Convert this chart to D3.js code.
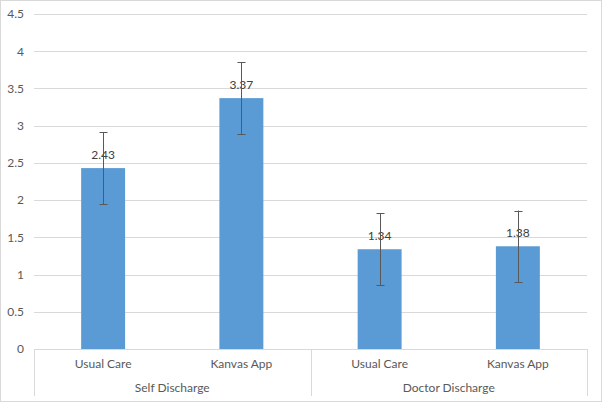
<!DOCTYPE html>
<html><head><meta charset="utf-8">
<script src="https://cdn.jsdelivr.net/npm/d3@7"></script>
<style>body{margin:0;background:#fff}svg{display:block}text{font-family:Lato,"Open Sans","Liberation Sans",sans-serif}</style>
</head><body><div id="chart"></div>
<script>
const groups = ["Self Discharge", "Doctor Discharge"];
const categories = ["Usual Care", "Kanvas App", "Usual Care", "Kanvas App"];
const categoryGroup = [0, 0, 1, 1];
const values = [2.43, 3.37, 1.34, 1.38];
const errors = [0.485, 0.485, 0.485, 0.48];
const yTicks = [0, 0.5, 1, 1.5, 2, 2.5, 3, 3.5, 4, 4.5];

const W = 616, H = 418;
const svg = d3.select("#chart").append("svg").attr("width", W).attr("height", H);
svg.append("rect").attr("x", 0.5).attr("y", 0.5).attr("width", 601).attr("height", 401)
  .attr("fill", "#fff").attr("stroke", "#d9d9d9");

const pLeft = 34, pRight = 587, pTop = 14, pBottom = 349;
const keys = categories.map((c, i) => i);
const x = d3.scaleBand().domain(keys).range([pLeft, pRight]).paddingInner(0.682).paddingOuter(0.341);
const y = d3.scaleLinear().domain([0, 4.5]).range([pBottom, pTop]);

// gridlines
svg.append("g").selectAll("line").data(yTicks.filter(t => t > 0)).join("line")
  .attr("x1", pLeft).attr("x2", pRight)
  .attr("y1", d => Math.round(y(d)) + 0.5).attr("y2", d => Math.round(y(d)) + 0.5)
  .attr("stroke", "#d9d9d9");

// y axis labels
const yAxis = d3.axisLeft(y).tickValues(yTicks).tickSize(0).tickPadding(10).tickFormat(d3.format("~g"));
const gy = svg.append("g").attr("transform", `translate(${pLeft},0)`).call(yAxis);
gy.select(".domain").remove();
gy.selectAll("text").attr("fill", "#595959").attr("font-size", 12).attr("font-family", null);

// bars
svg.append("g").selectAll("rect").data(values).join("rect")
  .attr("x", (d, i) => x(i)).attr("width", x.bandwidth())
  .attr("y", d => y(d)).attr("height", d => pBottom - y(d))
  .attr("fill", "#5b9bd5");

// data labels
svg.append("g").selectAll("text").data(values).join("text")
  .attr("x", (d, i) => x(i) + x.bandwidth() / 2).attr("y", d => y(d) - 9)
  .attr("text-anchor", "middle").attr("font-size", 12).attr("fill", "#404040")
  .text(d => d3.format(".2f")(d));

// error bars
const eb = svg.append("g").attr("stroke", "#595959").attr("stroke-width", 1);
values.forEach((v, i) => {
  const cx = Math.round(x(i) + x.bandwidth() / 2) + 0.5;
  const y1 = y(v + errors[i]), y2 = y(v - errors[i]);
  eb.append("line").attr("x1", cx).attr("x2", cx).attr("y1", y1).attr("y2", y2);
  [y1, y2].forEach(yy => eb.append("line").attr("x1", cx - 4).attr("x2", cx + 4)
    .attr("y1", Math.round(yy) + 0.5).attr("y2", Math.round(yy) + 0.5));
});

// category axis
const ax = svg.append("g").attr("stroke", "#d9d9d9");
ax.append("line").attr("x1", pLeft).attr("x2", pRight).attr("y1", pBottom + 0.5).attr("y2", pBottom + 0.5);
const step = x.step();
const seps = [pLeft, pLeft + 2 * step, pRight];
seps.forEach(sx => ax.append("line").attr("x1", Math.round(sx) + 0.5).attr("x2", Math.round(sx) + 0.5)
  .attr("y1", pBottom).attr("y2", 396));

svg.append("g").selectAll("text").data(categories).join("text")
  .attr("x", (d, i) => x(i) + x.bandwidth() / 2).attr("y", 368)
  .attr("text-anchor", "middle").attr("font-size", 12).attr("fill", "#595959").text(d => d);

svg.append("g").selectAll("text").data(groups).join("text")
  .attr("x", (d, g) => {
    const idx = keys.filter(i => categoryGroup[i] === g);
    return (x(idx[0]) - x.step() * x.paddingInner() / 2 + x(idx[idx.length - 1]) + x.bandwidth() + x.step() * x.paddingInner() / 2) / 2;
  })
  .attr("y", 392).attr("text-anchor", "middle").attr("font-size", 12).attr("fill", "#595959").text(d => d);
</script></body></html>
